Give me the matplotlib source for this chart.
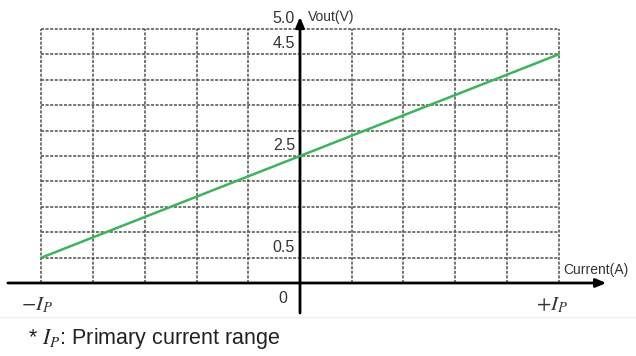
import matplotlib
matplotlib.use("Agg")
import matplotlib.pyplot as plt
import numpy as np

plt.rcParams['font.family'] = ['Liberation Sans', 'DejaVu Sans']
plt.rcParams['mathtext.fontset'] = 'stix'

# Data
current = [-1.0, 1.0]          # -Ip .. +Ip
vout = [0.5, 4.5]              # V
grid_x = [-1.0, -0.8, -0.6, -0.4, -0.2, 0.0, 0.2, 0.4, 0.6, 0.8, 1.0]
grid_y = [0.0, 0.5, 1.0, 1.5, 2.0, 2.5, 3.0, 3.5, 4.0, 4.5, 5.0]
ytick_vals = [5.0, 4.5, 2.5, 0.5]
ytick_labels = ['5.0', '4.5', '2.5', '0.5']

fig = plt.figure(figsize=(6.36, 3.56), dpi=100)
ax = fig.add_axes([0, 0, 1, 1])
ax.set_xlim(-1.1605, 1.2998)
ax.set_ylim(-1.437, 5.571)
ax.axis('off')

grid_kw = dict(color='#505050', lw=1.1, linestyle=(0, (2, 1)), zorder=1)
for gx in grid_x:
    if gx != 0.0:
        ax.plot([gx, gx], [0, 5.0], **grid_kw)
for gy in grid_y:
    if gy != 0.0:
        ax.plot([-1.0, 1.0], [gy, gy], **grid_kw)

# faint separator
ax.plot([-1.2, 1.3], [-0.67, -0.67], color='#eeeeee', lw=1, zorder=0)

# axes with arrows
ax.annotate('', xy=(1.185, 0), xytext=(-1.13, 0),
            arrowprops=dict(arrowstyle='-|>,head_length=0.6,head_width=0.25',
                            lw=2.0, color='black', shrinkA=0, shrinkB=0), zorder=3)
ax.annotate('', xy=(0, 5.24), xytext=(0, -0.59),
            arrowprops=dict(arrowstyle='-|>,head_length=0.6,head_width=0.25',
                            lw=2.0, color='black', shrinkA=0, shrinkB=0), zorder=3)

ax.plot(current, vout, color='#3DB45C', lw=1.8, zorder=4)

for v, lab in zip(ytick_vals, ytick_labels):
    ax.text(-0.019, v + 0.06, lab, ha='right', va='bottom', fontsize=11.5, color='#333333', zorder=5)
ax.text(-0.066, -0.30, '0', ha='center', va='center', fontsize=11.5, color='#333333')
ax.text(0.031, 5.24, 'Vout(V)', ha='left', va='center', fontsize=10, color='#333333')
ax.text(1.017, 0.256, 'Current(A)', ha='left', va='center', fontsize=10, color='#333333')
ax.text(-1.017, -0.43, r'$-I_P$', ha='center', va='center', fontsize=15, color='#333333')
ax.text(0.975, -0.43, r'$+I_P$', ha='center', va='center', fontsize=15, color='#333333')
ax.text(-1.052, -1.083, r'* $I_P$: Primary current range', ha='left', va='center',
        fontsize=15.5, color='#222222')

fig.savefig('out.png', dpi=100)
